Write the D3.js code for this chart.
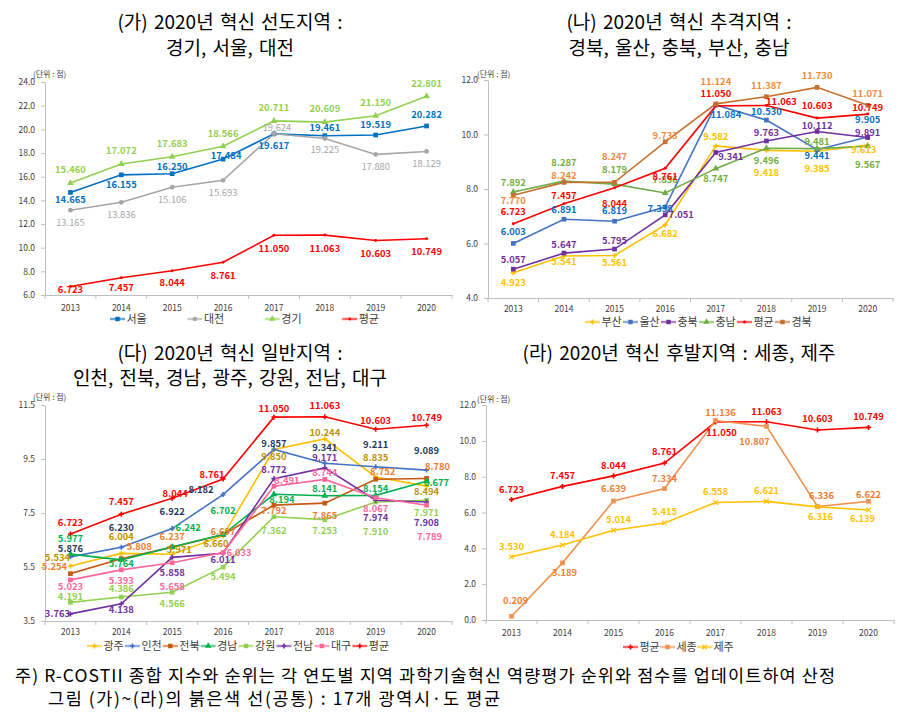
<!DOCTYPE html>
<html><head><meta charset="utf-8">
<script src="https://cdn.jsdelivr.net/npm/d3@7/dist/d3.min.js"></script>
<style>
body{margin:0;background:#fff}
text{font-family:'Noto Sans CJK KR','Noto Sans',sans-serif}
</style>
</head><body>
<svg id="c" width="909" height="722"></svg>
<script>
// ---------------- DATA ----------------
const years = ["2013","2014","2015","2016","2017","2018","2019","2020"];
const avg = [6.723, 7.457, 8.044, 8.761, 11.050, 11.063, 10.603, 10.749];

// (가) 선도지역
const p1Seoul   = [14.665, 16.155, 16.250, 17.484, 19.617, 19.461, 19.519, 20.282];
const p1Daejeon = [13.165, 13.836, 15.106, 15.693, 19.624, 19.225, 17.880, 18.129];
const p1Gyeonggi= [15.460, 17.072, 17.683, 18.566, 20.711, 20.609, 21.150, 22.801];
const p1Ticks = [6, 8, 10, 12, 14, 16, 18, 20, 22, 24];

// (나) 추격지역
const p2Busan    = [4.923, 5.541, 5.561, 6.682, 9.582, 9.418, 9.385, 9.613];
const p2Ulsan    = [6.003, 6.891, 6.819, 7.338, 11.084, 10.530, 9.441, 9.905];
const p2Chungbuk = [5.057, 5.647, 5.795, 7.051, 9.341, 9.763, 10.112, 9.891];
const p2Chungnam = [7.892, 8.287, 8.179, 7.856, 8.747, 9.496, 9.481, 9.567];
const p2Gyeongbuk= [7.770, 8.242, 8.247, 9.733, 11.124, 11.387, 11.730, 11.071];
const p2Ticks = [4, 6, 8, 10, 12];

// (다) 일반지역
const p3Gwangju  = [5.534, 6.004, 5.971, 6.660, 9.850, 10.244, 8.835, 8.494];
const p3Incheon  = [5.876, 6.230, 6.922, 8.182, 9.857, 9.341, 9.211, 9.089];
const p3Jeonbuk  = [5.254, 5.808, 6.237, 6.697, 7.792, 7.865, 8.752, 8.780];
const p3Gyeongnam= [5.977, 5.764, 6.242, 6.702, 8.194, 8.141, 8.154, 8.677];
const p3Gangwon  = [4.191, 4.386, 4.566, 5.494, 7.362, 7.253, 7.910, 7.971];
const p3Jeonnam  = [3.763, 4.138, 5.858, 6.011, 8.772, 9.171, 7.974, 7.908];
const p3Daegu    = [5.023, 5.393, 5.658, 6.033, 8.491, 8.744, 8.067, 7.789];
const p3Ticks = [3.5, 5.5, 7.5, 9.5, 11.5];

// (라) 후발지역
const p4Sejong = [0.209, 3.189, 6.639, 7.334, 11.136, 10.807, 6.336, 6.622];
const p4Jeju   = [3.530, 4.184, 5.014, 5.415, 6.558, 6.621, 6.316, 6.139];
const p4Ticks = [0, 2, 4, 6, 8, 10, 12];

const titles = {
  p1: ["(가) 2020년 혁신 선도지역 :", "경기, 서울, 대전"],
  p2: ["(나) 2020년 혁신 추격지역 :", "경북, 울산, 충북, 부산, 충남"],
  p3: ["(다) 2020년 혁신 일반지역 :", "인천, 전북, 경남, 광주, 강원, 전남, 대구"],
  p4: ["(라) 2020년 혁신 후발지역 : 세종, 제주"]
};
const unitText = "(단위 : 점)";
const footer = [
  "주) R-COSTII 종합 지수와 순위는 각 연도별 지역 과학기술혁신 역량평가 순위와 점수를 업데이트하여 산정",
  "그림 (가)~(라)의 붉은색 선(공통) : 17개 광역시·도 평균"
];

// ---------------- LAYOUT / STYLE (label offsets, px) ----------------
const Z = [0,0,0,0,0,0,0,0];
const panels = [
  { id:"p1", x0:45, x1:452, yTop:82, yBot:295, domain:[6,24], ticks:p1Ticks, cx:230,
    titleY:[22,48], unit:[33,74], yearY:308, legend:{x:110, step:77.4, y:319},
    series:[
      {name:"서울", values:p1Seoul, line:"#0070C0", label:"#0070C0", sym:"square", dy:[7,10,-7,-3,12,-8,-10,-11], dx:[0,0,0,3,0,0,0,0]},
      {name:"대전", values:p1Daejeon, line:"#A6A6A6", label:"#A6A6A6", sym:"circle", weight:"normal", dy:[12,12,12,12,-6,11,12,12], dx:[0,0,0,0,3,0,0,0]},
      {name:"경기", values:p1Gyeonggi, line:"#92D050", label:"#92D050", sym:"triangle", dy:[-13,-13,-13,-13,-13,-13,-13,-12], dx:Z},
      {name:"평균", values:avg, line:"#FF0000", label:"#FF0000", sym:"dot", dy:[3,10,12,13,13,14,13,13], dx:Z}
    ]},
  { id:"p2", x0:488, x1:893, yTop:80, yBot:298, domain:[4,12], ticks:p2Ticks, cx:679,
    titleY:[22,48], unit:[477,74], yearY:309, legend:{x:585, step:38, y:322},
    series:[
      {name:"부산", values:p2Busan, line:"#FFC000", label:"#FFC000", sym:"plus", dy:[10,6,7,9,-9,22,17,5], dx:[0,0,0,0,0,0,0,-4]},
      {name:"울산", values:p2Ulsan, line:"#4472C4", label:"#0070C0", sym:"square", dy:[-12,-10,-10,2,10,-8,6,-17], dx:[0,0,0,-5,10,0,0,0]},
      {name:"충북", values:p2Chungbuk, line:"#7030A0", label:"#7030A0", sym:"square", dy:[-9,-8,-8,0,4,-8,-6,-5], dx:[0,0,0,16,15,0,0,0]},
      {name:"충남", values:p2Chungnam, line:"#70AD47", label:"#70AD47", sym:"triangle", dy:[-9,-18,-14,-13,10,12,-7,18], dx:Z},
      {name:"평균", values:avg, line:"#FF0000", label:"#FF0000", sym:"dot", dy:[-12,-8,16,8,-12,-4,-12,-6], dx:[0,0,0,0,0,15,0,0]},
      {name:"경북", values:p2Gyeongbuk, line:"#C5702F", label:"#F08A3C", sym:"square", dy:[5,-7,-26,-6,-22,-11,-12,-12], dx:Z}
    ]},
  { id:"p3", x0:45, x1:452, yTop:405, yBot:621, domain:[3.5,11.5], ticks:p3Ticks, cx:230,
    titleY:[353,378], unit:[33,397], yearY:632, legend:{x:87, step:37.9, y:646},
    series:[
      {name:"광주", values:p3Gwangju, line:"#FFC000", label:"#BF9000", sym:"plus", dy:[-8,-17,-5,8,7,-6,-19,6], dx:[-13,0,7,-7,0,0,0,0]},
      {name:"인천", values:p3Incheon, line:"#4472C4", label:"#1F3864", sym:"plus", dy:[-8,-20,-17,-5,-6,-16,-22,-19], dx:[0,0,0,-22,0,0,0,0]},
      {name:"전북", values:p3Jeonbuk, line:"#C55A11", label:"#ED7D31", sym:"square", dy:[-7,-12,-10,-3,6,13,-7,-12], dx:[-16,18,0,0,0,0,7,11]},
      {name:"경남", values:p3Gyeongnam, line:"#00B050", label:"#00B050", sym:"triangle", dy:[-15,4,-19,-24,5,-7,-7,1], dx:[0,0,16,0,8,0,0,10]},
      {name:"강원", values:p3Gangwon, line:"#92D050", label:"#92D050", sym:"square", dy:[-6,-8,11,10,14,11,30,12], dx:Z},
      {name:"전남", values:p3Jeonnam, line:"#7030A0", label:"#7030A0", sym:"plus", dy:[0,6,15,7,-9,-10,18,21], dx:[-13,0,0,0,0,0,0,0]},
      {name:"대구", values:p3Daegu, line:"#FF6699", label:"#FF6699", sym:"square", dy:[7,11,24,0,-6,-7,11,32], dx:[0,0,0,16,13,0,0,3]},
      {name:"평균", values:avg, line:"#FF0000", label:"#FF0000", sym:"plus", dy:[-11,-12,-5,-4,-8,-11,-9,-8], dx:[0,0,3,-11,0,0,0,0]}
    ]},
  { id:"p4", x0:486, x1:894, yTop:405, yBot:620, domain:[0,12], ticks:p4Ticks, cx:679,
    titleY:[353], unit:[477,399], yearY:633, legend:{x:623, step:37, y:647},
    series:[
      {name:"평균", values:avg, line:"#FF0000", label:"#FF0000", sym:"plus", dy:[-10,-11,-10,-11,11,-10,-11,-11], dx:[0,0,0,0,6,0,0,0]},
      {name:"세종", values:p4Sejong, line:"#F0924F", label:"#ED7D31", sym:"square", dy:[-16,10,-12,-10,-8,15,-11,-7], dx:[4,2,0,0,5,-12,4,0]},
      {name:"제주", values:p4Jeju, line:"#FFC000", label:"#FFC000", sym:"star", dy:[-10,-10,-10,-11,-11,-11,10,9], dx:[0,0,5,0,0,0,3,-6]}
    ]}
];

// ---------------- DRAW ----------------
const svg = d3.select("#c");
const symMap = {
  square: d3.symbolSquare, circle: d3.symbolCircle, triangle: d3.symbolTriangle,
  plus: d3.symbolCross, dot: d3.symbolCircle, star: d3.symbolTimes
};
const symSize = {square:22, circle:18, triangle:20, plus:14, dot:7, star:16};

function drawMarker(g, s, x, y, scale) {
  const type = symMap[s.sym];
  const size = symSize[s.sym] * (scale || 1);
  const p = g.append("path")
    .attr("d", d3.symbol().type(type).size(size)())
    .attr("transform", `translate(${x},${y})`);
  if (s.sym === "star") p.attr("fill","none").attr("stroke", s.line).attr("stroke-width",1.2);
  else p.attr("fill", s.line);
}

panels.forEach(P => {
  const g = svg.append("g");
  const x = d3.scaleBand().domain(years).range([P.x0, P.x1]);
  const y = d3.scaleLinear().domain(P.domain).range([P.yBot, P.yTop]);
  const cxOf = yr => x(yr) + x.bandwidth() / 2;

  // titles
  const tl = titles[P.id];
  tl.forEach((t, i) => {
    g.append("text").attr("x", P.cx).attr("y", P.titleY[i]).attr("dy","0.35em")
      .attr("text-anchor","middle").attr("font-size", 19).attr("fill","#000")
      .style("word-spacing","2px").text(t);
  });

  // y axis
  const ya = g.append("g").attr("transform", `translate(${P.x0},0)`)
    .call(d3.axisLeft(y).tickValues(P.ticks).tickFormat(d3.format(".1f")).tickSize(4).tickSizeOuter(0).tickPadding(6));
  ya.select(".domain").attr("stroke","#BFBFBF");
  ya.selectAll(".tick line").attr("stroke","#BFBFBF");
  ya.selectAll(".tick text").attr("font-size", 8.5).attr("fill","#404040")
    .style("font-family","'Noto Sans CJK KR',sans-serif");

  // x axis
  const xa = g.append("g").attr("transform", `translate(0,${P.yBot})`)
    .call(d3.axisBottom(x).tickSize(0).tickSizeOuter(0).tickPadding(0));
  xa.select(".domain").attr("stroke","#BFBFBF");
  xa.selectAll(".tick text").attr("font-size", 8.5).attr("fill","#404040")
    .attr("y", P.yearY - P.yBot).attr("dy","0.35em")
    .style("font-family","'Noto Sans CJK KR',sans-serif");
  const bounds = years.map(yr => x(yr)).concat([x(years[years.length-1]) + x.bandwidth()]);
  g.append("g").selectAll("line").data(bounds).join("line")
    .attr("x1", d => d).attr("x2", d => d)
    .attr("y1", P.yBot).attr("y2", P.yBot + 4)
    .attr("stroke","#BFBFBF");

  // unit
  g.append("text").attr("x", P.unit[0]).attr("y", P.unit[1]).attr("dy","0.35em")
    .attr("font-size", 8).attr("fill","#404040").text(unitText);

  // lines
  const lineGen = d3.line().x((d,i) => cxOf(years[i])).y(d => y(d));
  P.series.forEach(s => {
    g.append("path").datum(s.values).attr("d", lineGen)
      .attr("fill","none").attr("stroke", s.line).attr("stroke-width", 1.6);
  });
  // markers
  P.series.forEach(s => {
    s.values.forEach((v, i) => drawMarker(g, s, cxOf(years[i]), y(v)));
  });
  // labels
  P.series.forEach(s => {
    s.values.forEach((v, i) => {
      g.append("text")
        .attr("x", cxOf(years[i]) + s.dx[i])
        .attr("y", y(v) + s.dy[i]).attr("dy","0.35em")
        .attr("text-anchor","middle")
        .attr("font-size", 9.4)
        .attr("font-weight", s.weight || "bold")
        .attr("fill", s.label)
        .text(d3.format(".3f")(v));
    });
  });

  // legend
  P.series.forEach((s, i) => {
    const lx = P.legend.x + i * P.legend.step;
    const ly = P.legend.y;
    g.append("line").attr("x1", lx).attr("x2", lx + 15).attr("y1", ly).attr("y2", ly)
      .attr("stroke", s.line).attr("stroke-width", 2.4).attr("stroke-opacity", 0.6);
    drawMarker(g, s, lx + 7.5, ly, 0.9);
    g.append("text").attr("x", lx + 16.5).attr("y", ly).attr("dy","0.35em")
      .attr("font-size", 11).attr("fill","#404040").text(s.name);
  });
});

// footer
svg.append("text").attr("x", 15).attr("y", 676).attr("dy","0.35em")
  .attr("font-size", 17.5).attr("fill","#000")
  .attr("textLength", 820).attr("lengthAdjust","spacing").text(footer[0]);
svg.append("text").attr("x", 48).attr("y", 699).attr("dy","0.35em")
  .attr("font-size", 17.5).attr("fill","#000")
  .attr("textLength", 452).attr("lengthAdjust","spacing").text(footer[1]);
</script>
</body></html>
